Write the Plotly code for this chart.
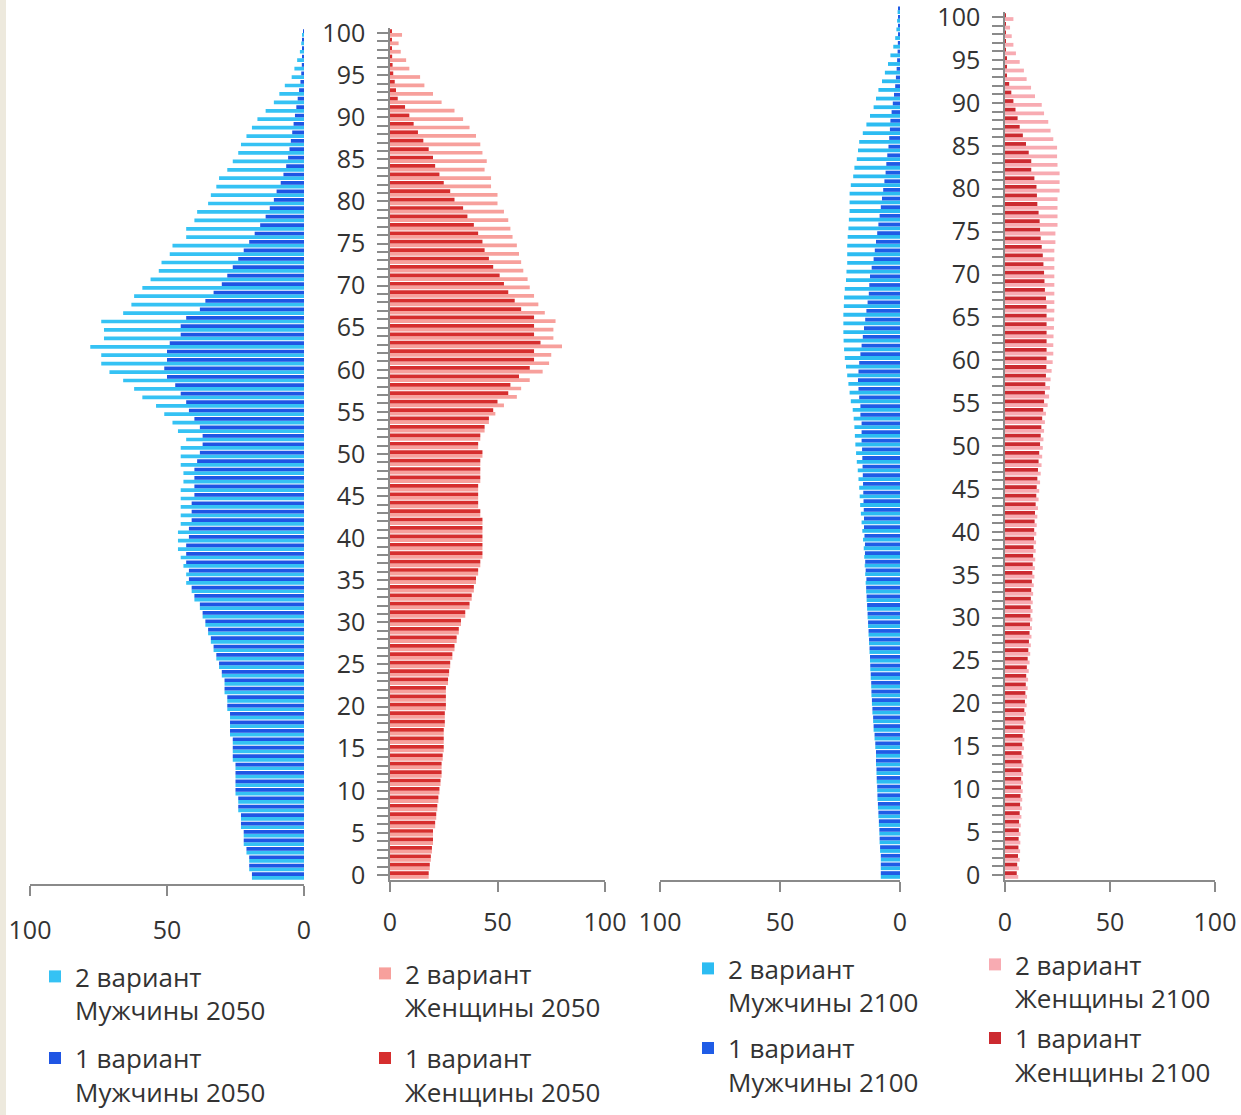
import plotly.graph_objects as go

W, H = 1241, 1115


def fx(px):
    return px / W


def fy(py):
    return 1 - py / H


ages = list(range(101))
age_tick_labels = [str(a) for a in range(0, 101, 5)]
x_tick_vals = [0, 50, 100]
x_tick_labels = ["0", "50", "100"]

legend_v2 = "2 вариант"
legend_v1 = "1 вариант"
group_labels = ["Мужчины 2050", "Женщины 2050", "Мужчины 2100", "Женщины 2100"]

# Values per age 0..100
male_2050_v2 = [19, 20, 20, 21, 22, 22, 23, 23, 24, 24, 25, 25, 25, 25, 26, 26, 26, 27, 27, 27,
                28, 28, 29, 29, 30, 31, 32, 33, 34, 35, 36, 37, 38, 40, 41, 43, 43, 44, 45, 46,
                46, 46, 45, 45, 45, 45, 45, 44, 44, 45, 45, 45, 43, 46, 48, 51, 54, 59, 62, 66,
                71, 74, 74, 78, 73, 73, 74, 66, 63, 62, 59, 56, 53, 52, 49, 48, 43, 43, 40, 39,
                35, 34, 32, 31, 28, 26, 24, 23, 21, 19, 17, 14, 11, 9, 7, 4.5, 3.5, 2.5, 1.5, 1, 0.5]
male_2050_v1 = [19, 20, 20, 21, 22, 22, 23, 23, 24, 24, 25, 25, 25, 25, 26, 26, 26, 27, 27, 27,
                28, 28, 29, 29, 30, 31, 32, 33, 34, 35, 36, 37, 38, 40, 41, 42, 42, 43, 43, 43,
                42, 42, 41, 41, 41, 40, 40, 40, 40, 39, 38, 37, 37, 38, 40, 42, 43, 45, 47, 50,
                51, 50, 50, 49, 45, 45, 43, 38, 36, 33, 30, 28, 26, 24, 22, 20, 18, 16, 14, 12.5,
                11, 10, 8.5, 7.5, 6.5, 5.8, 5.3, 4.8, 4.3, 3.8, 3.3, 2.8, 2.3, 1.8, 1.3, 1, 0.8, 0.6, 0.5, 0.4, 0.3]
female_2050_v2 = [18, 18.5, 19, 19.5, 20, 20, 21, 21.5, 22, 22.5, 23, 23.5, 24, 24, 24.5, 25, 25, 25, 25.5, 25.5,
                  26, 26, 26, 27, 27.5, 28, 29, 30, 31, 32, 33, 35, 37, 38, 39, 40, 41, 42, 43, 43,
                  43, 43, 43, 42, 41, 41, 41, 42, 42, 42, 43, 41, 42, 44, 46, 49, 53, 59, 61, 65,
                  71, 74, 75, 80, 76, 76, 77, 72, 69, 67, 65, 64, 62, 61, 60, 59, 57, 56, 55, 53,
                  50, 50, 47, 47, 44, 45, 43, 42, 40, 37, 34, 30, 24, 20, 16, 14, 9, 7.5, 5, 4, 5.6]
female_2050_v1 = [18, 18.5, 19, 19.5, 20, 20, 21, 21.5, 22, 22.5, 23, 23.5, 24, 24, 24.5, 25, 25, 25, 25.5, 25.5,
                  26, 26, 26, 27, 27.5, 28, 29, 30, 31, 32, 33, 35, 37, 38, 39, 40, 41, 42, 43, 43,
                  43, 43, 43, 42, 41, 41, 41, 42, 42, 42, 43, 41, 42, 44, 46, 48, 50, 55, 56, 60,
                  65, 67, 67, 70, 67, 67, 67, 61, 58, 55, 53, 51, 48, 46, 44, 43, 41, 39, 36, 34,
                  30, 28, 25, 23, 21, 20, 18, 15.5, 13, 11, 9, 7, 3.6, 2.8, 2.2, 1.5, 1.2, 1, 0.8, 0.5, 0.5]
male_2100_v2 = [8, 8, 8, 8.3, 8.5, 8.6, 8.8, 9, 9.2, 9.4, 9.5, 9.7, 9.8, 10, 10, 10.3, 10.6, 11, 11.2, 11.5,
                11.7, 11.9, 12, 12.2, 12.4, 12.5, 12.7, 12.9, 13.1, 13.3, 13.5, 13.7, 13.9, 14.1, 14.3, 14.5, 14.7, 14.9, 15.1, 15.4,
                15.7, 16, 16.3, 16.6, 16.8, 17, 17.3, 17.6, 18, 18.3, 18.6, 18.8, 19, 19.3, 19.7, 20.5, 21, 21.5, 22, 22.5,
                23, 23.3, 23.5, 23.6, 23.6, 23.6, 23.4, 23.3, 23, 22.5, 22.3, 22, 22, 22, 21.8, 21.5, 21.3, 21, 21, 21,
                20.5, 19.5, 19, 18, 17.5, 17, 15.5, 14, 12.5, 11, 10, 9, 7.5, 6.3, 5, 4, 2.8, 2, 1.5, 1.2, 1]
male_2100_v1 = [8, 8, 8, 8.3, 8.5, 8.6, 8.8, 9, 9.2, 9.4, 9.5, 9.7, 9.8, 10, 10, 10.3, 10.6, 11, 11.2, 11.5,
                11.7, 11.9, 12, 12.2, 12.4, 12.5, 12.7, 12.9, 13.1, 13.3, 13.5, 13.7, 13.9, 14.1, 14, 14.3, 14.5, 14.6, 14.6, 14.8,
                15, 15, 15.1, 15.2, 15.3, 15.4, 15.5, 15.6, 15.7, 15.8, 16, 16, 16, 16.5, 16.5, 17, 17.3, 17.5, 17.3, 17,
                16.5, 16, 15.5, 15, 14.5, 14, 13.5, 13, 12.8, 12.5, 11.8, 11, 10.5, 10, 9.5, 9, 8.5, 8, 7.5, 7,
                6.5, 6, 5.7, 5.3, 4.8, 4.5, 4.2, 4, 3.5, 3, 2.5, 2, 1.7, 1.4, 1.2, 1, 0.9, 0.8, 0.7, 0.6, 0.5]
female_2100_v2 = [6.3, 6.6, 7, 7.2, 7.3, 7.4, 7.5, 7.8, 8, 8.2, 8.4, 8.5, 8.6, 8.7, 8.7, 9, 9.2, 9.5, 9.8, 10,
                  10.3, 10.5, 10.8, 11, 11.3, 11.7, 12, 12.3, 12.6, 12.8, 13, 13.1, 13.2, 13.4, 13.7, 14, 14.2, 14.4, 14.6, 14.8,
                  14.9, 15.1, 15.4, 15.7, 16, 16.3, 16.7, 17, 17.4, 17.7, 18, 18.3, 18.6, 19, 19.5, 20.3, 21, 21.4, 21.7, 22.2,
                  22.7, 23, 23, 23.1, 23.3, 23.4, 23.5, 23.5, 23.5, 23.5, 23.5, 23.5, 23.5, 23.5, 24, 24, 25, 25, 25, 25,
                  26, 26, 26, 25, 24.8, 24.8, 23, 21.7, 20.6, 18.6, 17.5, 14.3, 12.4, 10.3, 9, 7, 5.2, 4, 3.2, 2.4, 4]
female_2100_v1 = [5.6, 5.8, 6.2, 6.4, 6.5, 6.6, 6.7, 7, 7.2, 7.4, 7.6, 7.7, 7.8, 7.9, 7.9, 8.2, 8.4, 8.7, 9, 9.2,
                  9.5, 9.7, 9.9, 10.1, 10.4, 10.8, 11.1, 11.4, 11.7, 11.9, 12.1, 12.2, 12.3, 12.5, 12.8, 13, 13.2, 13.4, 13.6, 13.8,
                  13.9, 14.1, 14.3, 14.6, 14.9, 15.1, 15.4, 15.7, 16, 16.3, 16.7, 17, 17.3, 17.7, 18.2, 18.6, 19, 19.2, 19.5, 19.7,
                  19.8, 19.8, 19.8, 19.8, 19.8, 19.8, 19.8, 19.5, 19, 18.8, 18.6, 18.3, 18, 17.5, 17, 16.7, 16.5, 16, 15.4, 15.2,
                  15, 14, 12.5, 12.5, 11.3, 10, 8.5, 7, 6, 5, 4, 3, 2, 0.8, 0.6, 0.5, 0.4, 0.3, 0.3, 0.2, 0.2]

panels = [
    dict(v2=male_2050_v2, v1=male_2050_v1, c2="#35C2F4", c1="#1F55E4", label=group_labels[0]),
    dict(v2=female_2050_v2, v1=female_2050_v1, c2="#F7A09C", c1="#D62E2E", label=group_labels[1]),
    dict(v2=male_2100_v2, v1=male_2100_v1, c2="#2CBCF2", c1="#1F5CE6", label=group_labels[2]),
    dict(v2=female_2100_v2, v1=female_2100_v1, c2="#F8ABB2", c1="#CC2A30", label=group_labels[3]),
]
legend_ids = ["legend", "legend2", "legend3", "legend4"]

fig = go.Figure()
for i, p in enumerate(panels):
    ax = "" if i == 0 else str(i + 1)
    for key, col, lab in (("v2", p["c2"], legend_v2), ("v1", p["c1"], legend_v1)):
        fig.add_trace(go.Bar(
            x=p[key], y=ages, orientation="h",
            xaxis="x" + ax, yaxis="y" + ax,
            marker=dict(color=col, line=dict(width=0)),
            name=lab + "<br>" + p["label"],
            legend=legend_ids[i], legendgroup=f"{i}{key}",
            hoverinfo="x+y",
        ))

axis_font = dict(family="Open Sans, sans-serif", size=25, color="#333333")
gray = "#8A8A8A"


def xaxis(domain, rng, anchor, standoff):
    return dict(domain=domain, range=rng, anchor=anchor, tickvals=x_tick_vals, ticktext=x_tick_labels,
                showline=True, linecolor=gray, linewidth=1.5, ticks="outside", ticklen=10,
                tickcolor=gray, tickwidth=1.5, showgrid=False, zeroline=False, tickfont=axis_font,
                ticklabelstandoff=standoff, ticklabeloverflow="allow", fixedrange=True)


def yaxis_labeled(domain, rng, anchor):
    return dict(domain=domain, range=rng, anchor=anchor, tickvals=list(range(0, 101, 5)),
                ticktext=age_tick_labels, showline=True, linecolor=gray, linewidth=1.5,
                ticks="outside", ticklen=11, tickcolor=gray, tickwidth=1.5,
                minor=dict(dtick=1, ticks="outside", ticklen=11, tickcolor=gray, tickwidth=1.5),
                showgrid=False, zeroline=False, tickfont=axis_font, ticklabelstandoff=7,
                ticklabeloverflow="allow", fixedrange=True)


def yaxis_hidden(domain, rng, anchor):
    return dict(domain=domain, range=rng, anchor=anchor, visible=False, showgrid=False,
                zeroline=False, fixedrange=True)


leg_font = dict(family="Open Sans, sans-serif", size=26, color="#333333")


def legend(xpx, ypx, gap):
    return dict(x=fx(xpx), y=fy(ypx), xanchor="left", yanchor="top", font=leg_font,
                bgcolor="rgba(0,0,0,0)", valign="top", tracegroupgap=gap, traceorder="grouped")


fig.update_layout(
    width=W, height=H,
    margin=dict(l=0, r=0, t=0, b=0, autoexpand=False),
    paper_bgcolor="white", plot_bgcolor="white",
    barmode="group", bargap=0.12, bargroupgap=0.0,
    xaxis=xaxis([fx(30), fx(304)], [100, 0], "y", 13),
    yaxis=yaxis_hidden([fy(884.4), fy(28)], [-1.0, 100.6], "x"),
    xaxis2=xaxis([fx(390), fx(605)], [0, 100], "y2", 9),
    yaxis2=yaxis_labeled([fy(880), fy(28)], [-0.6, 100.6], "x2"),
    xaxis3=xaxis([fx(660), fx(900)], [100, 0], "y3", 9),
    yaxis3=yaxis_hidden([fy(880), fy(5)], [-0.58, 100.6], "x3"),
    xaxis4=xaxis([fx(1005), fx(1215)], [0, 100], "y4", 9),
    yaxis4=yaxis_labeled([fy(880), fy(12)], [-0.58, 100.6], "x4"),
    legend=legend(35, 953, 11),
    legend2=legend(365, 950, 14),
    legend3=legend(688, 945, 9),
    legend4=legend(975, 941, 3),
    shapes=[dict(type="rect", xref="paper", yref="paper", x0=0, x1=fx(6), y0=0, y1=1,
                 fillcolor="#EDE9DD", line=dict(width=0), layer="below")],
    showlegend=True,
)

fig.write_html("out.html", config={"displayModeBar": False},
               post_script="document.body.style.margin='0';")
